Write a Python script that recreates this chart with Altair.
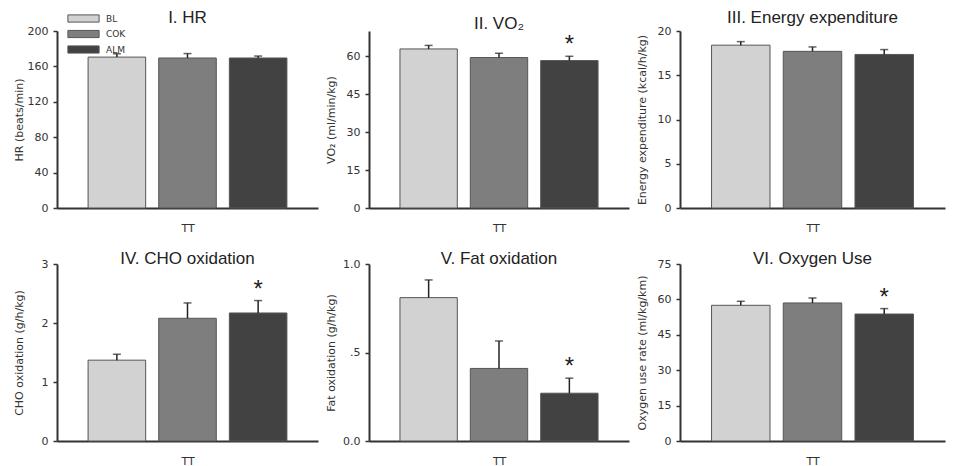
import altair as alt
import pandas as pd

groups = ["BL", "COK", "ALM"]
colors = ["#d2d2d2", "#7e7e7e", "#424242"]

hr_mean = [170.5, 169.5, 169.5]
hr_err = [3.8, 5.0, 2.2]
vo2_mean = [62.9, 59.5, 58.3]
vo2_err = [1.4, 1.7, 1.7]
ee_mean = [18.4, 17.7, 17.35]
ee_err = [0.4, 0.5, 0.55]
cho_mean = [1.37, 2.08, 2.17]
cho_err = [0.10, 0.26, 0.21]
fat_mean = [0.81, 0.41, 0.27]
fat_err = [0.10, 0.155, 0.085]
o2_mean = [57.5, 58.5, 53.8]
o2_err = [1.7, 2.1, 2.3]

FONT = "Liberation Sans"
AFONT = "DejaVu Sans"
INK = "#333333"


def panel(title, ytitle, means, errs, domain, ticks, stars, width,
          legend=False, label_expr=None, title_offset=-2):
    df = pd.DataFrame({"group": groups, "mean": means, "err": errs, "star": stars})
    base = alt.Chart(df).transform_calculate(top="datum.mean + datum.err")
    x = alt.X("group:N", sort=groups,
              scale=alt.Scale(paddingInner=0.185, paddingOuter=0.44),
              axis=alt.Axis(title="TT", labels=False, ticks=False,
                            domainColor=INK, domainWidth=2,
                            titleFont=AFONT, titleFontSize=11, titleFontWeight="normal",
                            titleColor=INK, titlePadding=14))
    yaxis = dict(values=ticks, title=ytitle, grid=False, domainColor=INK, domainWidth=2,
                 tickColor=INK, tickSize=4, tickWidth=1.5, labelOverlap=False,
                 labelFont=AFONT, labelFontSize=11, labelColor=INK, labelPadding=5,
                 titleFont=AFONT, titleFontSize=11, titleFontWeight="normal",
                 titleColor=INK, titlePadding=3, minExtent=30, maxExtent=30)
    if label_expr:
        yaxis["labelExpr"] = label_expr
    ysc = alt.Scale(domain=domain, nice=False)

    def Y(field):
        return alt.Y(field, scale=ysc, axis=alt.Axis(**yaxis))

    if legend:
        leg = alt.Legend(title=None, orient="none", legendX=11, legendY=-17, padding=0,
                         symbolType="M-3.9,-0.9H3.9V0.9H-3.9Z", symbolSize=64,
                         symbolOffset=11,
                         symbolStrokeColor="#555", symbolStrokeWidth=1,
                         labelFont=AFONT, labelFontSize=9, labelColor=INK,
                         labelOffset=18, rowPadding=2.5)
    else:
        leg = None
    bars = base.mark_bar(stroke="#555555", strokeWidth=1).encode(
        x=x, y=Y("mean:Q"),
        color=alt.Color("group:N", sort=groups,
                        scale=alt.Scale(domain=groups, range=colors), legend=leg))
    rule = base.mark_rule(color="#222222", strokeWidth=1.5).encode(
        x=x, y=Y("mean:Q"), y2="top:Q")
    cap = base.mark_tick(color="#222222", size=8, thickness=1.5).encode(x=x, y=Y("top:Q"))
    star = base.transform_filter("datum.star").mark_text(
        text="*", font=FONT, fontSize=24, baseline="alphabetic", dy=-4, color="#222222"
    ).encode(x=x, y=Y("top:Q"))
    return alt.layer(bars, rule, cap, star).properties(
        width=width, height=177,
        title=alt.TitleParams(title, font=FONT, fontSize=17, fontWeight="normal",
                              color="#222222", anchor="middle", offset=title_offset))


nostar = [False, False, False]
almstar = [False, False, True]

p1 = panel("I. HR", "HR (beats/min)", hr_mean, hr_err, [0, 200],
           [0, 40, 80, 120, 160, 200], nostar, 261, legend=True)
p2 = panel("II. VO₂", "VO₂ (ml/min/kg)", vo2_mean, vo2_err, [0, 70],
           [0, 15, 30, 45, 60], almstar, 260)
p3 = panel("III. Energy expenditure", "Energy expenditure (kcal/h/kg)", ee_mean, ee_err,
           [0, 20], [0, 5, 10, 15, 20], nostar, 265)
p4 = panel("IV. CHO oxidation", "CHO oxidation (g/h/kg)", cho_mean, cho_err, [0, 3],
           [0, 1, 2, 3], almstar, 261, title_offset=-10)
p5 = panel("V. Fat oxidation", "Fat oxidation (g/h/kg)", fat_mean, fat_err, [0, 1],
           [0, 0.5, 1], almstar, 260,
           label_expr="datum.value == 0 ? '0.0' : (datum.value == 0.5 ? '.5' : '1.0')",
           title_offset=-10)
p6 = panel("VI. Oxygen Use", "Oxygen use rate (ml/kg/km)", o2_mean, o2_err, [0, 75],
           [0, 15, 30, 45, 60, 75], almstar, 265, title_offset=-10)

row1 = alt.hconcat(p1, p2, p3, spacing=7)
row2 = alt.hconcat(p4, p5, p6, spacing=7)
chart = alt.vconcat(row1, row2, spacing=17).resolve_scale(color="independent").properties(
    padding={"left": 13, "top": 9, "right": 5, "bottom": 2},
    background="white",
).configure_view(stroke=None)

chart.save("out.html", embed_options={"renderer": "svg", "actions": False})
